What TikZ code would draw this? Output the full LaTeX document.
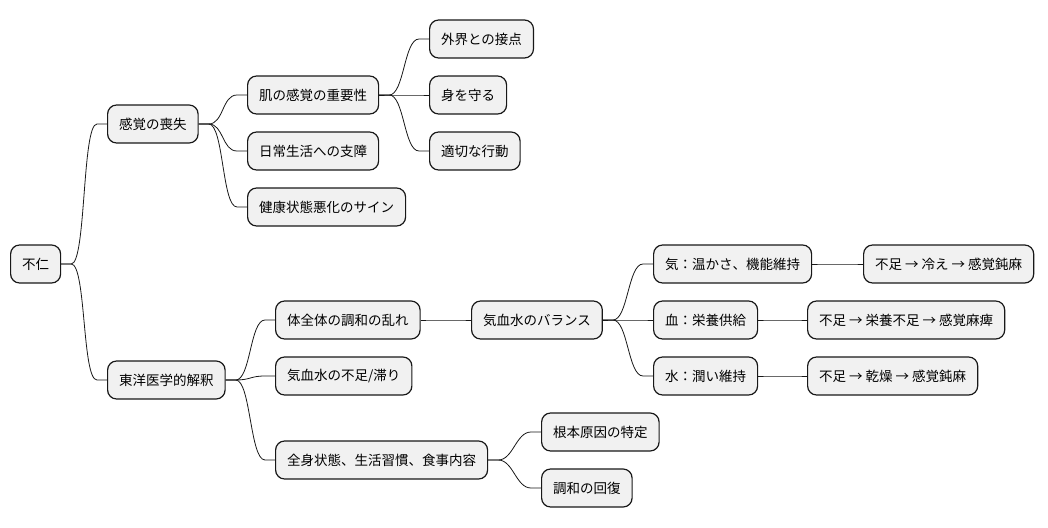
\documentclass[tikz,border=0pt]{standalone}
\usepackage{fontspec}
\setmainfont{Noto Sans CJK JP}
\usepackage{xcolor}
\usepackage{tikz}
\definecolor{FondoIdea}{HTML}{F1F1F1}
\definecolor{BordeIdea}{HTML}{181818}

\begin{document}
\begin{tikzpicture}[x=1pt, y=-1pt,
    idea/.style={draw=BordeIdea, fill=FondoIdea, line width=1.2pt,
        rounded corners=9pt, anchor=west, minimum height=38pt,
        inner xsep=11.5pt, font=\fontsize{13.5}{16}\selectfont},
    rama/.style={draw=BordeIdea, line width=0.8pt}]
    \useasboundingbox (0,0) rectangle (1048,527);

    \node[idea] (R)   at (10,264)  {不仁};
    \node[idea] (A)   at (107,124) {感覚の喪失};
    \node[idea] (A1)  at (247,95)  {肌の感覚の重要性};
    \node[idea] (A2)  at (247,151) {日常生活への支障};
    \node[idea] (A3)  at (247,207) {健康状態悪化のサイン};
    \node[idea] (A11) at (429,39)  {外界との接点};
    \node[idea] (A12) at (429,95)  {身を守る};
    \node[idea] (A13) at (429,151) {適切な行動};
    \node[idea] (B)   at (107,380) {東洋医学的解釈};
    \node[idea] (B1)  at (275,320) {体全体の調和の乱れ};
    \node[idea] (B2)  at (275,376) {気血水の不足/滞り};
    \node[idea] (B3)  at (275,460) {全身状態、生活習慣、食事内容};
    \node[idea] (C)   at (471,320) {気血水のバランス};
    \node[idea] (C1)  at (653,264) {気：温かさ、機能維持};
    \node[idea] (C2)  at (653,320) {血：栄養供給};
    \node[idea] (C3)  at (653,376) {水：潤い維持};
    \node[idea] (D1)  at (863,264) {不足 → 冷え → 感覚鈍麻};
    \node[idea] (D2)  at (807,320) {不足 → 栄養不足 → 感覚麻痺};
    \node[idea] (D3)  at (807,376) {不足 → 乾燥 → 感覚鈍麻};
    \node[idea] (B31) at (541,432) {根本原因の特定};
    \node[idea] (B32) at (541,488) {調和の回復};

    \foreach \p/\c in {R/A, R/B, A/A1, A/A2, A/A3, A1/A11, A1/A12, A1/A13,
        B/B1, B/B2, B/B3, B1/C, C/C1, C/C2, C/C3, C1/D1, C2/D2, C3/D3,
        B3/B31, B3/B32}
        \draw[rama] (\p.east) -- ++(10,0)
            .. controls +(15,0) and +(-15,0) .. ([xshift=-10pt]\c.west)
            -- (\c.west);
\end{tikzpicture}
\end{document}
